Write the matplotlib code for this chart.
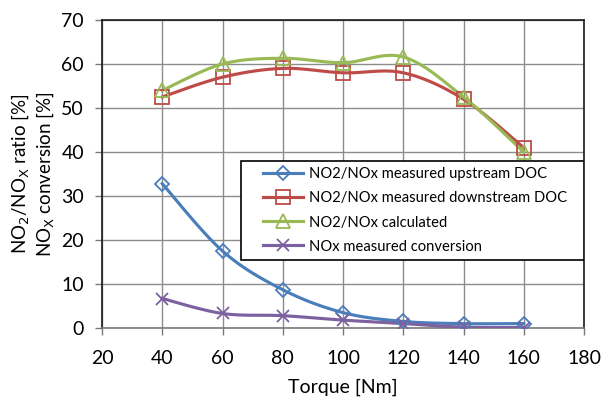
import matplotlib
matplotlib.use('Agg')
import matplotlib.pyplot as plt
from matplotlib.patches import Rectangle
import numpy as np

torque = [40, 60, 80, 100, 120, 140, 160]
upstream = [32.8, 17.5, 8.7, 3.5, 1.5, 1.0, 1.0]
downstream = [52.5, 57.0, 59.0, 58.0, 58.0, 52.0, 41.0]
calculated = [54.0, 60.0, 61.3, 60.3, 61.6, 52.5, 40.0]
conversion = [6.7, 3.3, 2.8, 1.8, 1.0, 0.2, 0.1]

labels = ['NO2/NOx measured upstream DOC',
          'NO2/NOx measured downstream DOC',
          'NO2/NOx calculated',
          'NOx measured conversion']
colors = ['#4A7EBB', '#BE4B48', '#98B954', '#7D60A0']
markers = ['D', 's', '^', 'x']
msizes = [7, 10, 10, 9]


def smooth(x, y, n=20):
    # Excel-like smoothed line (cubic bezier, Catmull-Rom style)
    x = np.asarray(x, float)
    y = np.asarray(y, float)
    p = np.column_stack([x, y])
    out = []
    for i in range(len(p) - 1):
        p0 = p[i - 1] if i > 0 else p[i]
        p1 = p[i]
        p2 = p[i + 1]
        p3 = p[i + 2] if i + 2 < len(p) else p[i + 1]
        c1 = p1 + (p2 - p0) / 6.0
        c2 = p2 - (p3 - p1) / 6.0
        t = np.linspace(0, 1, n)[:, None]
        seg = ((1 - t) ** 3) * p1 + 3 * ((1 - t) ** 2) * t * c1 + 3 * (1 - t) * t ** 2 * c2 + t ** 3 * p2
        out.append(seg if i == 0 else seg[1:])
    s = np.vstack(out)
    return s[:, 0], s[:, 1]


plt.rcParams['font.family'] = ['Lato', 'DejaVu Sans']

fig = plt.figure(figsize=(6.02, 4.0), dpi=100)
ax = fig.add_axes([102 / 602, 72 / 400, 482 / 602, 308 / 400])

series = [upstream, downstream, calculated, conversion]
handles = []
for vals, lab, c, m, ms in zip(series, labels, colors, markers, msizes):
    sx, sy = smooth(torque, vals)
    ax.plot(sx, sy, color=c, lw=2.25, zorder=3)
    ax.plot(torque, vals, ls='none', marker=m, ms=ms, mfc='none', mec=c, mew=1.3, zorder=4)
    h, = ax.plot([], [], color=c, lw=2.25, marker=m, ms=ms, mfc='none', mec=c, mew=1.3)
    handles.append(h)

ax.set_xlim(20, 180)
ax.set_ylim(0, 70)
ax.set_xticks(range(20, 181, 20))
ax.set_yticks(range(0, 71, 10))
ax.grid(True, color='#8C8C8C', lw=1.0)
ax.set_axisbelow(True)
for s in ax.spines.values():
    s.set_color('#1a1a1a')
    s.set_linewidth(1.2)
ax.spines['bottom'].set_color('#7a7a7a')
ax.tick_params(axis='both', labelsize=14, color='#7a7a7a', length=5, width=1)
ax.tick_params(axis='x', pad=11)
ax.tick_params(axis='y', pad=8)

ax.set_xlabel('Torque [Nm]', fontsize=14, labelpad=8)
ax.set_ylabel('NO$_2$/NO$_\\mathrm{X}$ ratio [%]\nNO$_\\mathrm{X}$ conversion [%]', fontsize=13.5, labelpad=4)

# legend box like Excel: frame wider than its content
ax.add_patch(Rectangle((0.288, 0.221), 0.712, 0.321, transform=ax.transAxes,
                       facecolor='white', edgecolor='black', lw=1.2, zorder=5))
leg = ax.legend(handles, labels, loc='center left', bbox_to_anchor=(0.334, 0.3815),
                frameon=False, borderpad=0, labelspacing=0.68, handlelength=2.7,
                handletextpad=0.4, borderaxespad=0,
                prop={'family': ['Lato', 'DejaVu Sans'], 'size': 10.6})
leg.set_zorder(6)

fig.savefig('out.png', dpi=100)
